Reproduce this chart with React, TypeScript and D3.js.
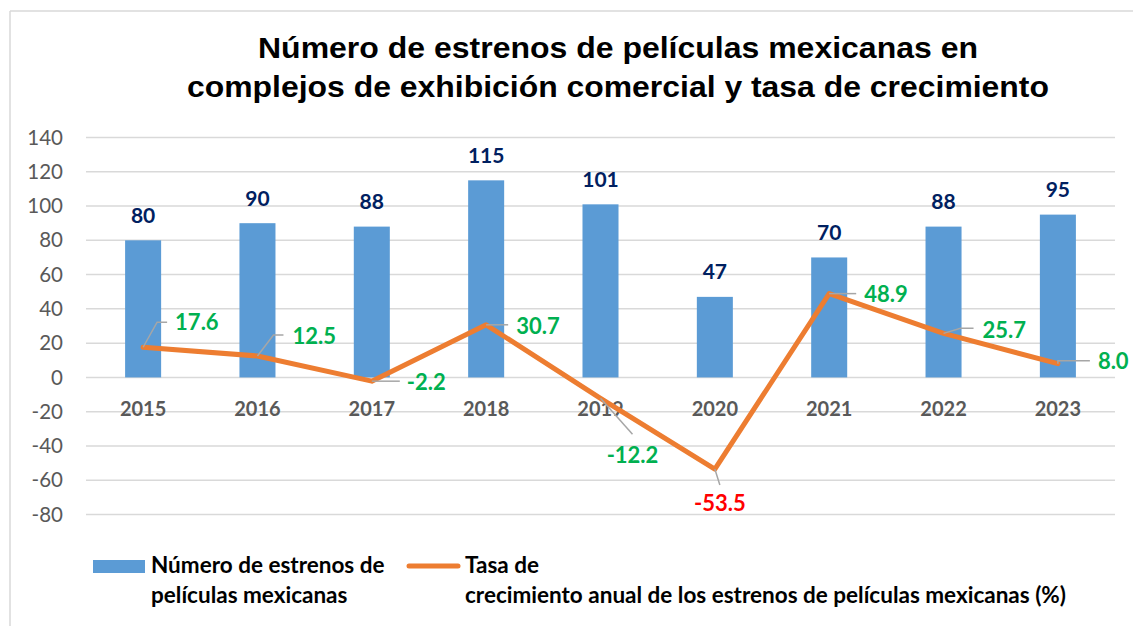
import React from "react";
import * as d3 from "d3";

const years = ["2015", "2016", "2017", "2018", "2019", "2020", "2021", "2022", "2023"];
const estrenos = [80, 90, 88, 115, 101, 47, 70, 88, 95];
const tasa = [17.6, 12.5, -2.2, 30.7, -12.2, -53.5, 48.9, 25.7, 8.0];
const yTicks = [140, 120, 100, 80, 60, 40, 20, 0, -20, -40, -60, -80];
// leader offsets for rate labels (dx, dy of elbow; horizontal length; label anchor)
const leaders: { ex: number; ey: number; hx: number; lx: number; ly: number; anchor: string }[] = [
  { ex: 14, ey: -25, hx: 10, lx: 8, ly: 0, anchor: "start" },
  { ex: 16, ey: -21, hx: 10, lx: 9, ly: 1, anchor: "start" },
  { ex: 0, ey: 0, hx: 28, lx: 7, ly: 1, anchor: "start" },
  { ex: 0, ey: 0, hx: 22, lx: 8, ly: 1, anchor: "start" },
  { ex: 32, ey: 36, hx: 0, lx: 0, ly: 21, anchor: "middle" },
  { ex: 5, ey: 16, hx: 0, lx: 0, ly: 18, anchor: "middle" },
  { ex: 0, ey: 0, hx: 27, lx: 8, ly: 1, anchor: "start" },
  { ex: 17, ey: -5, hx: 13, lx: 9, ly: 2, anchor: "start" },
  { ex: 0, ey: -3, hx: 32, lx: 8, ly: 1, anchor: "start" },
];

export default function App() {
  const W = 1133, H = 626;
  const x = d3.scaleBand<string>().domain(years).range([86, 1115]).paddingInner(0.685).paddingOuter(0.342);
  const y = d3.scaleLinear().domain([-80, 140]).range([514.5, 137.5]);
  const line = d3.line<number>().x((_, i) => (x(years[i]) as number) + x.bandwidth() / 2).y((d) => y(d));
  const font = "Lato, 'Open Sans', sans-serif";
  const titleFont = "'Liberation Sans', Arial, sans-serif";
  return (
    <svg width={W} height={H} style={{ position: "absolute", left: 0, top: 0 }}>
      <rect x={0} y={0} width={W} height={H} fill="#fff" />
      <line x1={10} y1={11} x2={W} y2={11} stroke="#D9D9D9" strokeWidth={1.5} />
      <line x1={10} y1={11} x2={10} y2={H} stroke="#D9D9D9" strokeWidth={1.5} />
      <text x={258} y={58} textLength={720} lengthAdjust="spacingAndGlyphs" fontFamily={titleFont} fontWeight="bold" fontSize={29} fill="#000">
        Número de estrenos de películas mexicanas en
      </text>
      <text x={187} y={97} textLength={862} lengthAdjust="spacingAndGlyphs" fontFamily={titleFont} fontWeight="bold" fontSize={29} fill="#000">
        complejos de exhibición comercial y tasa de crecimiento
      </text>
      {yTicks.map((t) => (
        <g key={t}>
          <line x1={86} x2={1115} y1={y(t)} y2={y(t)} stroke="#D9D9D9" strokeWidth={1.5} />
          <text x={63} y={y(t)} dy="0.35em" textAnchor="end" fontFamily={font} fontSize={20.5} fill="#595959">
            {t}
          </text>
        </g>
      ))}
      {estrenos.map((v, i) => {
        const bx = x(years[i]) as number;
        return (
          <g key={years[i]}>
            <rect x={bx} y={y(v)} width={x.bandwidth()} height={y(0) - y(v)} fill="#5B9BD5" />
            <text x={bx + x.bandwidth() / 2} y={y(v) - 25} dy="0.35em" textAnchor="middle" fontFamily={font} fontWeight="bold" fontSize={21} fill="#002060">
              {v}
            </text>
          </g>
        );
      })}
      {years.map((yr) => (
        <text key={yr} x={(x(yr) as number) + x.bandwidth() / 2} y={408.5} dy="0.35em" textAnchor="middle" fontFamily={font} fontWeight="bold" fontSize={20} fill="#595959">
          {yr}
        </text>
      ))}
      <path d={line(tasa) || ""} fill="none" stroke="#ED7D31" strokeWidth={5} strokeLinejoin="round" strokeLinecap="round" />
      {tasa.map((v, i) => {
        const px = (x(years[i]) as number) + x.bandwidth() / 2;
        const py = y(v);
        const L = leaders[i];
        const ex = px + L.ex, ey = py + L.ey;
        const hx = ex + L.hx;
        return (
          <g key={"t" + i}>
            <polyline points={`${px},${py} ${ex},${ey} ${hx},${ey}`} fill="none" stroke="#A6A6A6" strokeWidth={1.5} />
            <text x={hx + L.lx} y={ey + L.ly} dy="0.35em" textAnchor={L.anchor} fontFamily={font} fontWeight="bold" fontSize={22} fill={v < -50 ? "#FF0000" : "#00B050"}>
              {v.toFixed(1)}
            </text>
          </g>
        );
      })}
      <rect x={93} y={560} width={52} height={13} fill="#5B9BD5" />
      <text x={151} y={573} fontFamily={font} fontWeight="bold" fontSize={22.5} fill="#000">Número de estrenos de</text>
      <text x={151} y={603} fontFamily={font} fontWeight="bold" fontSize={22.5} fill="#000">películas mexicanas</text>
      <line x1={409} x2={458} y1={566} y2={566} stroke="#ED7D31" strokeWidth={5} strokeLinecap="round" />
      <text x={465} y={573} fontFamily={font} fontWeight="bold" fontSize={22.5} fill="#000">Tasa de</text>
      <text x={465} y={603} fontFamily={font} fontWeight="bold" fontSize={22.5} fill="#000">crecimiento anual de los estrenos de películas mexicanas (%)</text>
    </svg>
  );
}
